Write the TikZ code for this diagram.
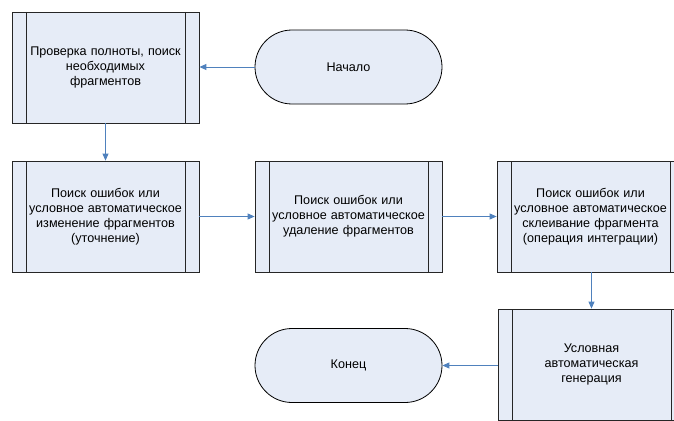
\documentclass[tikz,border=0pt]{standalone}
\usepackage{fontspec}
\setmainfont{Liberation Sans}
\usetikzlibrary{arrows.meta}
\definecolor{boxfill}{HTML}{E6ECF7}
\definecolor{arrowblue}{HTML}{4F81BD}
\tikzset{
  procbox/.style={draw=black!85, line width=0.8pt, fill=boxfill, minimum width=187pt, minimum height=111pt,
    inner sep=0pt, text width=165pt, align=center, font=\fontsize{12.6}{15}\selectfont,
    path picture={
      \draw[black!85, line width=0.8pt] ([xshift=14pt]path picture bounding box.north west) -- ([xshift=14pt]path picture bounding box.south west);
      \draw[black!85, line width=0.8pt] ([xshift=-14pt]path picture bounding box.north east) -- ([xshift=-14pt]path picture bounding box.south east);
    }},
  termbox/.style={draw=black, line width=0.8pt, fill=boxfill, minimum width=187pt, minimum height=74pt,
    rounded corners=37pt, inner sep=0pt, align=center, font=\fontsize{12.6}{15}\selectfont},
  flow/.style={draw=arrowblue, line width=0.9pt, -{Triangle[length=7pt,width=6pt]}}
}
\begin{document}
\begin{tikzpicture}[x=1pt,y=-1pt]
\useasboundingbox (0,0) rectangle (674,420);
\clip (0,0) rectangle (674,420);
\node[procbox] (b1) at (105.5,67.5) {Проверка полноты, поиск\\необходимых\\фрагментов};
\node[termbox] (start) at (348.5,67) {Начало};
\node[procbox] (b2) at (105.5,216.5) {Поиск ошибок или\\условное автоматическое\\изменение фрагментов\\(уточнение)};
\node[procbox] (b3) at (348.5,216.5) {Поиск ошибок или\\условное автоматическое\\удаление фрагментов};
\node[procbox] (b4) at (590.5,216.5) {Поиск ошибок или\\условное автоматическое\\склеивание фрагмента\\(операция интеграции)};
\node[procbox] (b5) at (591.5,364.5) {Условная\\автоматическая\\генерация};
\node[termbox] (end) at (348.5,365.5) {Конец};
\draw[flow] (start.west) -- (b1.east |- start.west);
\draw[flow] (b1.south) -- (b2.north);
\draw[flow] (b2.east) -- (b3.west);
\draw[flow] (b3.east) -- (b4.west);
\draw[flow] (b4.south -| b5.north) -- (b5.north);
\draw[flow] (b5.west |- end.east) -- (end.east);
\end{tikzpicture}
\end{document}
